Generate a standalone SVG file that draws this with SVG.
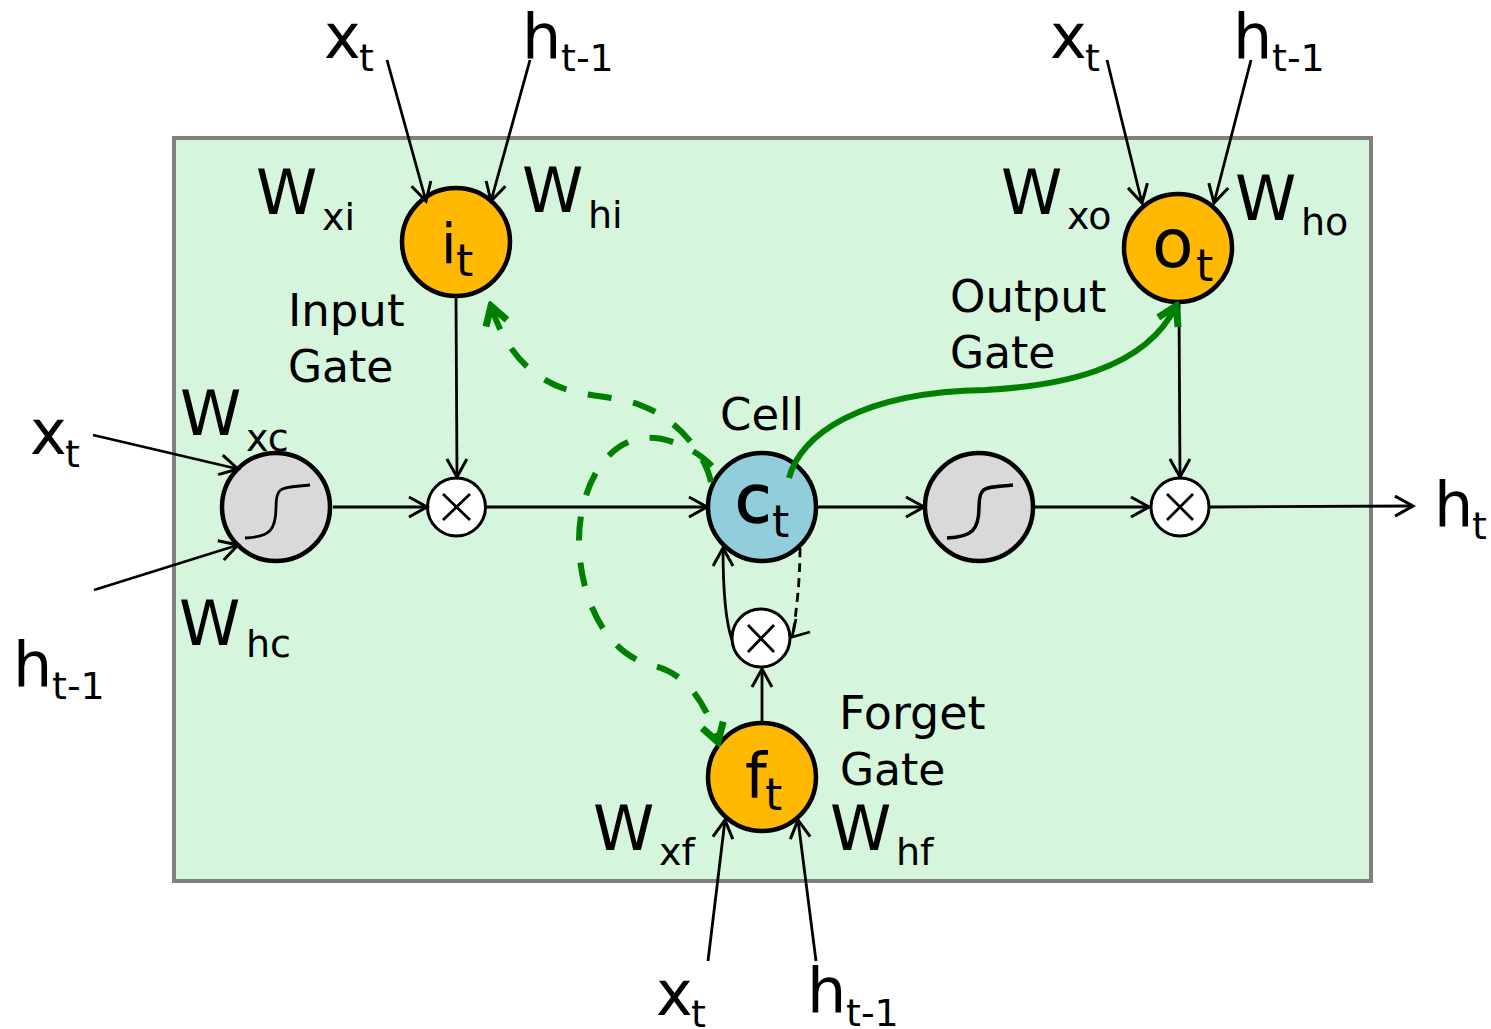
<svg xmlns="http://www.w3.org/2000/svg" width="1491" height="1029" viewBox="0 0 1491 1029">
<defs>
<marker id="a" markerUnits="userSpaceOnUse" markerWidth="24" markerHeight="28" refX="20" refY="14" orient="auto"><path d="M2 4 L20 14 L2 24" fill="none" stroke="#000" stroke-width="3"/></marker>
<marker id="g" markerUnits="userSpaceOnUse" markerWidth="30" markerHeight="36" refX="25" refY="18" orient="auto"><path d="M7 7 L25 18 L7 29" fill="none" stroke="#008000" stroke-width="7"/></marker>
</defs>
<style>
text{font-family:"DejaVu Sans","Liberation Sans",sans-serif;fill:#000}
.m{font-size:62px}
.s{font-size:38px}
.l{font-size:45px}
.k{font-size:44px}
.c{fill:none;stroke:#000;stroke-width:2.800}
.ar{marker-end:url(#a)}
.gd{fill:none;stroke:#008000;stroke-width:6;stroke-dasharray:24 22;marker-end:url(#g)}
.n{stroke:#000;stroke-width:4.500}
.x{fill:#fff;stroke:#000;stroke-width:3}
.o{fill:#FFB900}
.xm{fill:none;stroke:#000;stroke-width:2.800}
</style>
<rect id="frame" x="174" y="138" width="1197" height="743" fill="#D5F5DC" stroke="#808080" stroke-width="4"/>
<g id="node-it"><circle class="n o" cx="456" cy="242" r="54"/><text x="441" y="263" style="font-size:56px">i</text><text class="k" x="456" y="276">t</text></g>
<g id="node-ot"><circle class="n o" cx="1178" cy="248" r="54"/><text x="1152" y="267" style="font-size:68px">o</text><text class="k" x="1196" y="281">t</text></g>
<g id="node-ft"><circle class="n o" cx="762" cy="777" r="54"/><text class="m" x="745" y="797">f</text><text class="k" x="765" y="810">t</text></g>
<g id="node-ct"><circle class="n" fill="#92CDDC" cx="762" cy="507" r="54"/><text x="735" y="522" stroke="#000" stroke-width="1.500" style="font-size:66px">c</text><text class="k" x="772" y="537">t</text></g>
<g id="node-sig1"><circle class="n" fill="#D9D9D9" cx="276" cy="507" r="54"/><path class="xm" d="M245 538 C270 537 276 530 276 507 C276 485 282 488 310 485"/></g>
<g id="node-sig2"><circle class="n" fill="#D9D9D9" cx="979" cy="507" r="54"/><path fill="none" stroke="#000" stroke-width="3.500" d="M947 538 C972 537 979 530 979 507 C979 485 985 488 1013 485"/></g>
<g id="mul1"><circle class="x" cx="456.500" cy="507" r="29"/><path class="xm" d="M443 494 L470 520 M470 494 L443 520"/></g>
<g id="mul2"><circle class="x" cx="761" cy="638" r="29"/><path class="xm" d="M748 625 L774 652 M774 625 L748 652"/></g>
<g id="mul3"><circle class="x" cx="1180" cy="507" r="29"/><path class="xm" d="M1167 494 L1193 520 M1193 494 L1167 520"/></g>
<g id="connectors">
<path class="c ar" d="M387 60 L426 201"/>
<path class="c ar" d="M530 60 L491 201"/>
<path class="c ar" d="M1107 60 L1142 203"/>
<path class="c ar" d="M1251 60 L1214 203"/>
<path class="c ar" d="M93 435 L238 469"/>
<path class="c ar" d="M94 590 L238 545"/>
<path class="c ar" d="M708 961 L725 820"/>
<path class="c ar" d="M816 961 L798 820"/>
<path class="c ar" d="M333 507 L427 507"/>
<path class="c ar" d="M456 298 L457 477"/>
<path class="c ar" d="M486 507 L707 507"/>
<path class="c ar" d="M818 507 L924 507"/>
<path class="c ar" d="M1035 507 L1149 507"/>
<path class="c ar" d="M1179 304 L1180 477"/>
<path class="c ar" d="M1210 507 L1413 506"/>
<path class="c ar" d="M762 723 L762 669"/>
<path class="c ar" d="M732 640 C725 620 723 590 723 548"/>
<path class="c" d="M800 548 C800 580 797 605 793 635" stroke-dasharray="9 6"/>
<path class="c" d="M810 632 L792 637 L796 619"/>
<path class="gd" d="M711 482 C705 455 680 420 640 405 C615 396 590 397 568 390 C530 378 505 350 491 306"/>
<path class="gd" d="M712 466 C695 448 665 436 645 438 C605 440 579 490 579 540 C579 590 600 650 650 665 C685 672 705 700 718 742"/>
<path d="M789 478 C800 435 860 392 985 390 C1060 386 1145 370 1176 306" fill="none" stroke="#008000" stroke-width="6" marker-end="url(#g)"/>
</g>
<g id="labels">
<text class="m" x="324" y="58">x</text><text class="s" x="359" y="71">t</text>
<text class="m" x="522" y="58">h</text><text class="s" x="561" y="71">t-1</text>
<text class="m" x="1050" y="58">x</text><text class="s" x="1085" y="71">t</text>
<text class="m" x="1233" y="58">h</text><text class="s" x="1272" y="71">t-1</text>
<text class="m" x="30" y="454">x</text><text class="s" x="65" y="467">t</text>
<text class="m" x="13" y="686">h</text><text class="s" x="52" y="699">t-1</text>
<text class="m" x="656" y="1015">x</text><text class="s" x="691" y="1027">t</text>
<text class="m" x="807" y="1012">h</text><text class="s" x="846" y="1026">t-1</text>
<text class="m" x="1434" y="526">h</text><text class="s" x="1472" y="539">t</text>
<text class="m" x="256" y="214">W</text><text class="s" x="322" y="230">xi</text>
<text class="m" x="522" y="212">W</text><text class="s" x="588" y="228">hi</text>
<text class="m" x="1001" y="214">W</text><text class="s" x="1067" y="229">xo</text>
<text class="m" x="1235" y="220">W</text><text class="s" x="1301" y="235">ho</text>
<text class="m" x="180" y="435">W</text><text class="s" x="246" y="451">xc</text>
<text class="m" x="179" y="645">W</text><text class="s" x="246" y="657">hc</text>
<text class="m" x="593" y="850">W</text><text class="s" x="659" y="865">xf</text>
<text class="m" x="830" y="850">W</text><text class="s" x="896" y="865">hf</text>
<text class="l" x="288" y="326">Input</text><text class="l" x="288" y="382" style="font-size:44px">Gate</text>
<text class="l" x="950" y="312">Output</text><text class="l" x="950" y="368" style="font-size:44px">Gate</text>
<text class="l" x="720" y="430">Cell</text>
<text class="l" x="839" y="729" style="font-size:46px">Forget</text><text class="l" x="840" y="785" style="font-size:44px">Gate</text>
</g>
</svg>
